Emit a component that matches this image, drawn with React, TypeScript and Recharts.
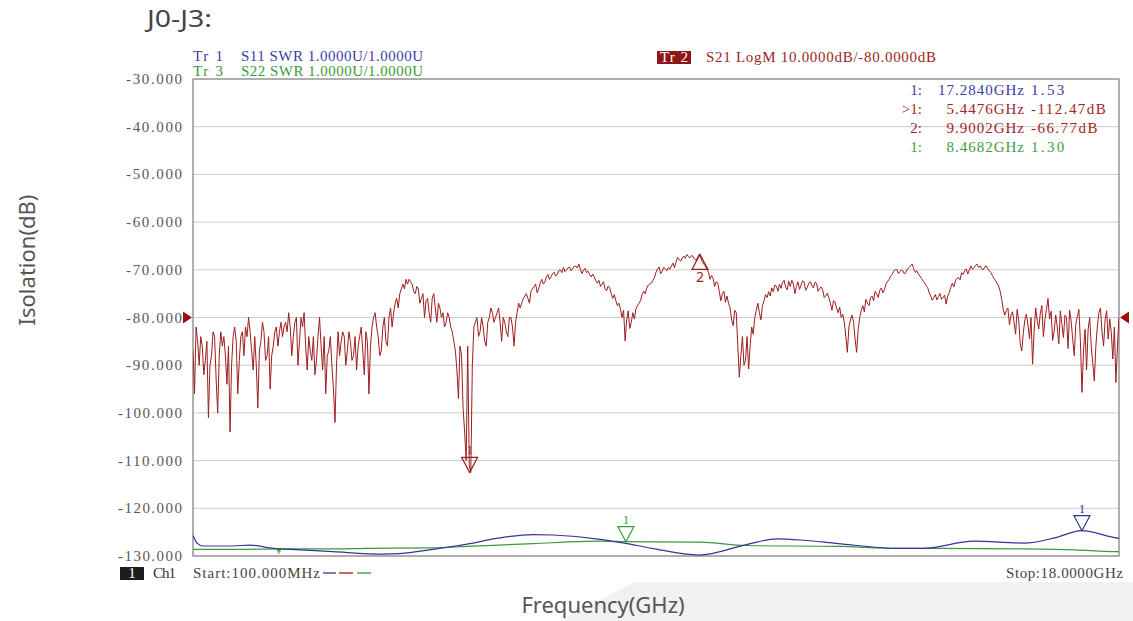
import React from 'react';
import { LineChart, Line, XAxis, YAxis, CartesianGrid, ReferenceDot, ReferenceArea } from 'recharts';

// ---------- sweep / axes ----------
const sweepStartGHz = 0.1;
const sweepStopGHz = 18;
const freqGridGHz = [0.1, 1.89, 3.68, 5.47, 7.26, 9.05, 10.84, 12.63, 14.42, 16.21, 18];
const dbTicks = [-30, -40, -50, -60, -70, -80, -90, -100, -110, -120, -130];

// ---------- Tr 2 : S21 LogM (dB), 601 sweep points ----------
const s21Db = [
  -87, -96, -82, -85, -90, -84, -86, -92, -89, -85, -101, -90, -88, -83, -84, -93, -100, -88, -83, -86,
  -84, -88, -94, -86, -104, -90, -84, -82, -85, -96, -89, -84, -83, -88, -82, -84, -80, -83, -87, -91,
  -84, -90, -99, -87, -85, -81, -83, -89, -88, -84, -95, -88, -86, -83, -82, -86, -83, -81, -84, -82,
  -81, -83, -79, -82, -88, -84, -81, -80, -90, -85, -80, -82, -79, -86, -91, -84, -87, -89, -84, -92,
  -89, -84, -80, -86, -91, -84, -96, -88, -87, -84, -90, -95, -102, -90, -83, -88, -85, -83, -84, -90,
  -87, -83, -85, -89, -88, -84, -91, -86, -84, -82, -87, -92, -83, -85, -96, -86, -82, -80, -79, -82,
  -84, -88, -87, -82, -80, -85, -86, -80, -78, -82, -79, -77, -76, -78, -75, -74, -73, -74, -72, -73,
  -72, -72.5, -73, -74.5, -75, -73.5, -74, -77, -76, -75, -80, -76.5, -76, -79, -81, -76, -75, -78, -81, -77,
  -78, -80, -79, -82, -81, -79, -80, -82, -83, -85, -87, -91, -97, -86, -88, -99, -104, -110, -86, -111,
  -112.5, -90, -82, -81, -80, -84, -83, -80, -82, -85, -86, -81, -80, -78, -79, -81, -80, -79, -78, -81,
  -85, -80, -81, -83, -84, -80, -80, -82, -86, -81, -79, -77, -78, -77, -76, -75.5, -75, -76, -77, -74.5,
  -74, -73.5, -73, -74.8, -74, -72.8, -72, -73, -72.5, -71.5, -71, -72, -71.5, -70.8, -70.5, -71.3, -71, -70.2, -70, -70.6,
  -69.5, -70.4, -70, -69.6, -69.4, -70.2, -69.8, -69.3, -69.2, -69.6, -68.8, -69.9, -70.8, -70.1, -69.7, -70.6, -70.3, -71, -71.5, -70.9,
  -71.5, -72.3, -72.8, -72.2, -73.5, -73, -72.5, -74, -74.4, -73.4, -73.8, -75, -76, -75.2, -76.5, -77.5, -77, -78.3, -80, -78.5,
  -84.9, -80.5, -78.6, -82.3, -81, -79, -80.3, -78.2, -77.5, -77, -76.5, -75.2, -74.5, -75, -73.8, -73.2, -73, -72.8, -72.2, -71.6,
  -70.5, -69.8, -69.4, -70.8, -70.3, -69.5, -69.8, -70.2, -69.5, -69.9, -69.2, -68.6, -69.6, -68.3, -67.4, -67.9, -68.2, -67.5, -67.1, -67.6,
  -66.8, -67.2, -67.5, -67, -67.2, -67.8, -68, -67.4, -66.77, -67.5, -68.3, -68.8, -69.2, -70, -70.5, -72, -71.2, -71.8, -73.5, -72.5,
  -72.7, -74.5, -76.5, -75, -74.5, -76.8, -75.5, -77, -78, -80.5, -81.7, -78.5, -79, -86, -92.5, -88, -84, -90, -89, -84,
  -90.8, -86, -82, -83.5, -80, -78.5, -77, -79, -80.5, -77.5, -76.5, -75.2, -75.8, -74.6, -75.5, -73.8, -74.6, -73.2, -73.4, -74.5,
  -73, -73.9, -72.6, -72.2, -73.6, -74.2, -72.4, -73.5, -72.2, -73, -75, -73.5, -72.5, -74.1, -73.2, -72.3, -72.6, -74.3, -73.7, -72.8,
  -72.5, -73.2, -73.8, -72.6, -72.8, -74.5, -74, -73.6, -74.2, -75.8, -75.5, -74.9, -75.8, -77, -78.5, -76.5, -76.8, -78, -79, -77.8,
  -80, -79.3, -81, -84, -87.3, -82, -80.5, -79.5, -81, -84.5, -87.3, -82.5, -80, -78.5, -77.5, -78.8, -76.2, -77, -77.5, -75.8,
  -75.5, -76.5, -74.5, -75, -75.8, -74.3, -73.8, -74.8, -74.2, -73, -72.5, -72, -71.3, -71, -70.3, -70, -69.9, -70.8, -70.4, -70,
  -70.2, -70.9, -70.5, -69.8, -69.5, -69.1, -68.8, -69.8, -70.5, -70.2, -70.9, -71.3, -71.8, -72.3, -72.7, -73.3, -73.7, -74.8, -75.5, -76.4,
  -75.8, -75.2, -76.3, -75.6, -75, -76.2, -75.8, -75.3, -77.2, -75.5, -74.8, -73.7, -72.8, -73.6, -72.3, -71.8, -71.6, -72.1, -70.6, -71,
  -70.2, -69.8, -70.9, -70, -69.2, -69.9, -69.6, -69.1, -68.8, -69.5, -69.2, -69.8, -70, -69.4, -69.2, -69.8, -70.2, -70.6, -71.2, -71.8,
  -72.3, -72.8, -73.4, -74.5, -76.2, -78.3, -79.5, -78.5, -78, -81.5, -79.5, -78.8, -81, -83.5, -78.3, -80.5, -85.5, -87, -83.2, -80.5,
  -79.3, -81.5, -84.5, -80, -89.8, -83, -78, -80.6, -82.4, -79.2, -77.5, -84, -80.5, -78.3, -76, -80.3, -78.7, -84.8, -82.8, -79.5,
  -82, -85.5, -78.6, -81.5, -84.2, -79.5, -80, -86.5, -78.5, -80.8, -84.5, -88, -81.5, -79.8, -78.3, -85, -95.7, -87, -82.5, -91,
  -82.5, -80, -86, -89.5, -93.3, -86, -81.7, -79, -78, -83, -86, -80.5, -78.6, -84.5, -80.3, -83.2, -88.7, -82, -93.6, -86,
  -80,
];

// ---------- Tr 1 : S11 SWR ----------
const s11FreqGHz = [0.1, 0.18, 0.29, 0.87, 1.2, 1.65, 2.17, 2.81, 3.77, 4.1, 4.74, 5.4, 6.03, 6.67, 7.06, 7.97, 8.44, 8.97, 9.88, 10.8, 11.39, 11.91, 12.57, 13.75, 14.21, 15.19, 16.17, 16.76, 17.28, 17.94, 18];
const s11Swr = [1.43, 1.27, 1.21, 1.21, 1.23, 1.16, 1.13, 1.09, 1.04, 1.05, 1.14, 1.25, 1.38, 1.45, 1.44, 1.35, 1.27, 1.16, 1.02, 1.24, 1.36, 1.33, 1.26, 1.16, 1.16, 1.31, 1.27, 1.38, 1.53, 1.38, 1.37];

// ---------- Tr 3 : S22 SWR ----------
const s22FreqGHz = [0.1, 1.0, 1.76, 2.8, 3.46, 4.74, 5.4, 6.67, 7.97, 8.47, 9.9, 10.8, 12.57, 13.75, 14.54, 16.17, 17.15, 17.94, 18];
const s22Swr = [1.14, 1.14, 1.15, 1.15, 1.16, 1.17, 1.2, 1.26, 1.31, 1.3, 1.29, 1.22, 1.2, 1.16, 1.16, 1.15, 1.13, 1.09, 1.09];

// ---------- markers ----------
const s21Markers = [
  { f: 5.4476, v: -112.47, label: '1' },
  { f: 9.9002, v: -66.77, label: '2' },
];
const s11Marker = { f: 17.284, v: 1.53, label: '1' };
const s22Marker = { f: 8.4682, v: 1.3, label: '1' };
const s22SmallMarker = { f: 1.76, v: 1.15 };
const refLevelDb = -80;

const markerTable = [
  { tag: '1:', freq: '17.2840GHz', val: '1.53', color: '#3a3aa6' },
  { tag: '>1:', freq: '5.4476GHz', val: '-112.47dB', color: '#a02424' },
  { tag: '2:', freq: '9.9002GHz', val: '-66.77dB', color: '#a02424' },
  { tag: '1:', freq: '8.4682GHz', val: '1.30', color: '#3c9c3c' },
];

// ---------- colours ----------
const C_BLUE = '#33339a';
const C_RED = '#9e1d1d';
const C_GREEN = '#3a9a3a';
const MONO = 'Liberation Serif';

const s21Rows = s21Db.map((v, i) => ({
  f: sweepStartGHz + (i * (sweepStopGHz - sweepStartGHz)) / (s21Db.length - 1),
  v,
}));
const s11Rows = s11FreqGHz.map((f, i) => ({ f, v: s11Swr[i] }));
const s22Rows = s22FreqGHz.map((f, i) => ({ f, v: s22Swr[i] }));

const DbTick = (props: any) => {
  const { x, y, payload } = props;
  const label = Number(payload.value).toFixed(3);
  return (
    <text x={x} y={y} dy={5} textAnchor="end" fontFamily={MONO} fontSize={15} fill="#585858"
      textLength={label.length * 8} lengthAdjust="spacing">{label}</text>
  );
};

const downMarker = (color: string, label: string) => (props: any) => {
  const { cx, cy } = props;
  return (
    <g>
      <polygon points={`${cx - 8},${cy - 15} ${cx + 8},${cy - 15} ${cx},${cy}`} fill="none" stroke={color} strokeWidth={1.2} />
      <text x={cx} y={cy - 18} textAnchor="middle" fontFamily={MONO} fontSize={13} fill={color}>{label}</text>
    </g>
  );
};

const upMarker = (color: string, label: string) => (props: any) => {
  const { cx, cy } = props;
  return (
    <g>
      <polygon points={`${cx - 8},${cy + 15} ${cx + 8},${cy + 15} ${cx},${cy}`} fill="none" stroke={color} strokeWidth={1.2} />
      <text x={cx} y={cy + 28} textAnchor="middle" fontFamily="Noto Sans" fontSize={14} fill={color}>{label}</text>
    </g>
  );
};

const smallTick = (color: string) => (props: any) => {
  const { cx, cy } = props;
  return (
    <g stroke={color} strokeWidth={1}>
      <line x1={cx - 3} y1={cy} x2={cx + 3} y2={cy} />
      <line x1={cx} y1={cy} x2={cx} y2={cy + 5} />
      <line x1={cx - 2} y1={cy + 2} x2={cx + 2} y2={cy + 2} />
    </g>
  );
};

const leftRefArrow = (props: any) => {
  const { cx, cy } = props;
  return <polygon points={`${cx - 10},${cy - 6} ${cx - 1},${cy} ${cx - 10},${cy + 6}`} fill="#9e1010" />;
};
const rightRefArrow = (props: any) => {
  const { cx, cy } = props;
  return <polygon points={`${cx + 10},${cy - 6} ${cx + 1},${cy} ${cx + 10},${cy + 6}`} fill="#9e1010" />;
};

export default function App() {
  return (
    <div style={{ position: 'absolute', left: 0, top: 0, width: 1133, height: 621, background: '#ffffff', overflow: 'hidden' }}>
      <svg width={1133} height={621} style={{ position: 'absolute', left: 0, top: 0 }}>
        <polygon points="560,621 634,582 1133,582 1133,621" fill="#f1f1f1" />
      </svg>
      <div style={{ position: 'absolute', left: 0, top: 0 }}>
        <LineChart width={1133} height={621} margin={{ top: 79, right: 14, bottom: 64, left: 113 }}>
          <CartesianGrid stroke="#cbcbcb" strokeWidth={1} />
          <XAxis dataKey="f" type="number" domain={[sweepStartGHz, sweepStopGHz]} ticks={freqGridGHz}
            tick={false} axisLine={false} tickLine={false} height={1} allowDataOverflow />
          <YAxis type="number" domain={[-130, -30]} ticks={dbTicks} width={80} axisLine={false} tickLine={false}
            tickSize={0} tickMargin={11} tick={<DbTick />} interval={0} allowDataOverflow />
          <YAxis yAxisId="swr" type="number" domain={[1, 11]} hide allowDataOverflow />
          <ReferenceArea x1={sweepStartGHz} x2={sweepStopGHz} y1={-130} y2={-30} fill="none" fillOpacity={0}
            stroke="#9c9c9c" strokeWidth={1.5} />
          <Line data={s22Rows} dataKey="v" yAxisId="swr" type="monotone" stroke={C_GREEN} strokeWidth={1.2}
            dot={false} isAnimationActive={false} />
          <Line data={s11Rows} dataKey="v" yAxisId="swr" type="monotone" stroke={C_BLUE} strokeWidth={1.2}
            dot={false} isAnimationActive={false} />
          <Line data={s21Rows} dataKey="v" type="linear" stroke={C_RED} strokeWidth={1}
            dot={false} isAnimationActive={false} />
          <ReferenceDot x={s21Markers[0].f} y={s21Markers[0].v} shape={downMarker(C_RED, s21Markers[0].label)} />
          <ReferenceDot x={s21Markers[1].f} y={s21Markers[1].v} shape={upMarker(C_RED, s21Markers[1].label)} />
          <ReferenceDot x={s11Marker.f} y={s11Marker.v} yAxisId="swr" shape={downMarker(C_BLUE, s11Marker.label)} />
          <ReferenceDot x={s22Marker.f} y={s22Marker.v} yAxisId="swr" shape={downMarker(C_GREEN, s22Marker.label)} />
          <ReferenceDot x={s22SmallMarker.f} y={s22SmallMarker.v} yAxisId="swr" shape={smallTick('#2a7a2a')} />
          <ReferenceDot x={sweepStartGHz} y={refLevelDb} shape={leftRefArrow} />
          <ReferenceDot x={sweepStopGHz} y={refLevelDb} shape={rightRefArrow} />
        </LineChart>
      </div>
      <svg width={1133} height={621} style={{ position: 'absolute', left: 0, top: 0, pointerEvents: 'none' }}>
        <text x={147} y={27} fontFamily="Noto Sans" fontSize={24} fill="#444" textLength={65} lengthAdjust="spacingAndGlyphs">J0-J3:</text>
        <text transform="translate(35,260) rotate(-90)" textAnchor="middle" fontFamily="Noto Sans" fontSize={22} fill="#555">Isolation(dB)</text>
        <text x={603} y={613} textAnchor="middle" fontFamily="Noto Sans" fontSize={22} fill="#555">Frequency(GHz)</text>

        <g fontFamily={MONO} fontSize={15}>
          <text x={193} y={61} fill="#3c3ca8" textLength={30} lengthAdjust="spacing">Tr 1</text>
          <text x={241} y={61} fill="#3c3ca8" textLength={182} lengthAdjust="spacing">S11 SWR 1.0000U/1.0000U</text>
          <text x={193} y={75.5} fill={C_GREEN} textLength={30} lengthAdjust="spacing">Tr 3</text>
          <text x={241} y={75.5} fill={C_GREEN} textLength={182} lengthAdjust="spacing">S22 SWR 1.0000U/1.0000U</text>
          <rect x={657} y={51} width={34} height={13} fill="#8e1616" />
          <text x={660} y={62} fill="#ffffff" textLength={28} lengthAdjust="spacing">Tr 2</text>
          <text x={706} y={62} fill="#a02424" textLength={230} lengthAdjust="spacing">S21 LogM 10.0000dB/-80.0000dB</text>

          {markerTable.map((r, i) => (
            <g key={i} fill={r.color}>
              <text x={922} y={95 + i * 19} textAnchor="end">{r.tag}</text>
              <text x={1024} y={95 + i * 19} textAnchor="end" textLength={r.freq.length * 8.6} lengthAdjust="spacing">{r.freq}</text>
              <text x={1031} y={95 + i * 19} textLength={r.val.length * 8.3} lengthAdjust="spacing">{r.val}</text>
            </g>
          ))}

          <rect x={120} y={567} width={24} height={13} fill="#1c1c1c" />
          <text x={132} y={578} textAnchor="middle" fill="#ffffff">1</text>
          <text x={153} y={578} fill="#333" textLength={23} lengthAdjust="spacing">Ch1</text>
          <text x={193} y={578} fill="#444" textLength={127} lengthAdjust="spacing">Start:100.000MHz</text>
          <text x={1123} y={578} textAnchor="end" fill="#444" textLength={117} lengthAdjust="spacing">Stop:18.0000GHz</text>
        </g>
        <line x1={323} y1={573} x2={336} y2={573} stroke={C_BLUE} strokeWidth={1.3} />
        <line x1={339} y1={573} x2={353} y2={573} stroke={C_RED} strokeWidth={1.3} />
        <line x1={357} y1={573} x2={371} y2={573} stroke={C_GREEN} strokeWidth={1.3} />
      </svg>
    </div>
  );
}
